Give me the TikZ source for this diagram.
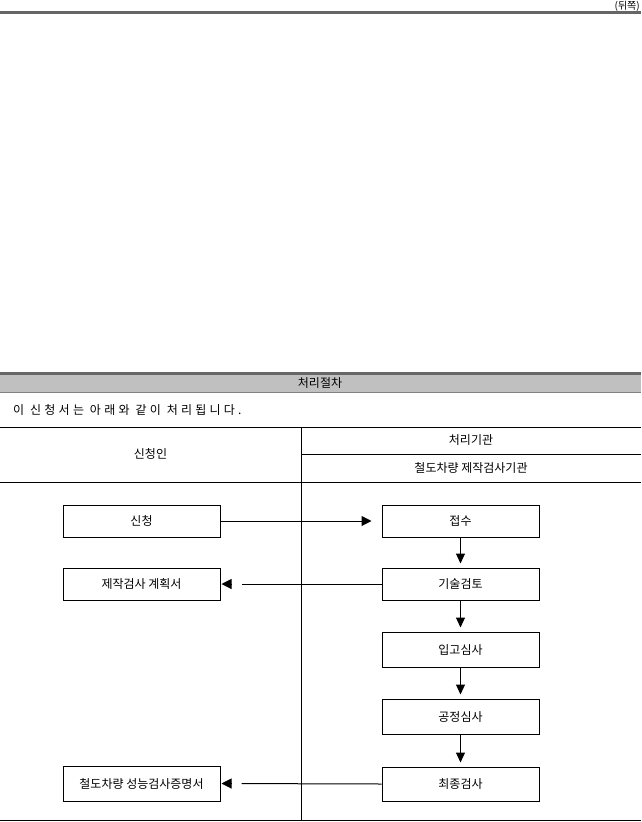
\documentclass[tikz,border=0pt]{standalone}
\usepackage{fontspec}
\setmainfont{Noto Sans CJK KR}
\newfontfamily\krwide[LetterSpace=27]{Noto Sans CJK KR}
\usetikzlibrary{arrows.meta}
\definecolor{bandgray}{HTML}{C0C0C0}
\definecolor{rulegray}{HTML}{666666}
\definecolor{thingray}{HTML}{808080}
\begin{document}
\begin{tikzpicture}[x=1pt,y=-1pt,
  font=\fontsize{12}{14}\selectfont,
  proc/.style={draw, line width=1pt, minimum width=157pt, inner sep=0pt},
  tbl/.style={line width=1pt},
  conn/.style={line width=1pt, -{Triangle[length=10pt,width=10pt]}},
  down/.style={line width=1pt, -{Triangle[length=10pt,width=9pt]}, shorten >=4pt},
  lbl/.style={inner sep=0pt}]
\useasboundingbox (0,0) rectangle (641,822);
% top
\node[lbl, anchor=base east, font=\fontsize{10}{12}\selectfont] (side) at (640,9) {(뒤쪽)};
\draw[rulegray, line width=3pt] (0,12.5) -- (641,12.5);
% band
\fill[bandgray] (0,374) rectangle (641,392);
\draw[rulegray, line width=3pt] (0,373) -- (641,373);
\draw[thingray, line width=1pt] (0,392) -- (641,392);
\node[lbl] (title) at (320,383) {처리절차};
\node[lbl, anchor=west, font=\krwide\fontsize{12}{14}\selectfont] (intro) at (13,410) {이 신청서는 아래와 같이 처리됩니다.};
% table
\draw[tbl] (0,427) -- (641,427);
\draw[tbl] (301,454) -- (641,454);
\draw[tbl] (0,482) -- (641,482);
\draw[tbl] (301,427) -- (301,820);
\draw[tbl] (0,820) -- (641,820);
\node[lbl] (hA) at (150.5,454) {신청인};
\node[lbl] (hB) at (471,440) {처리기관};
\node[lbl] (hC) at (471,467.5) {철도차량 제작검사기관};
% boxes
\node[proc, minimum height=32pt] (l1) at (141.5,521) {신청};
\node[proc, minimum height=32pt] (r1) at (460.5,521) {접수};
\node[proc, minimum height=32pt] (l2) at (141.5,584) {제작검사 계획서};
\node[proc, minimum height=32pt] (r2) at (460.5,584) {기술검토};
\node[proc, minimum height=35pt] (r3) at (460.5,649.5) {입고심사};
\node[proc, minimum height=35pt] (r4) at (460.5,716.5) {공정심사};
\node[proc, minimum height=34pt] (r5) at (460.5,784) {최종검사};
\node[proc, minimum height=35pt] (l5) at (141.5,783.5) {철도차량 성능검사증명서};
% connectors
\draw[conn, shorten >=10pt] (l1) -- (r1);
\draw[tbl, shorten >=21pt] (r2.west) -- (l2.east);
\draw[conn, shorten >=1pt] ([xshift=11pt]l2.east) -- (l2.east);
\draw[tbl, shorten >=21pt] (r5.west) -- (l5.east);
\draw[conn, shorten >=1pt] ([xshift=11pt]l5.east) -- (l5.east);
\draw[down] (r1) -- (r2);
\draw[down] (r2) -- (r3);
\draw[down] (r3) -- (r4);
\draw[down] (r4) -- (r5);
\end{tikzpicture}
\end{document}
